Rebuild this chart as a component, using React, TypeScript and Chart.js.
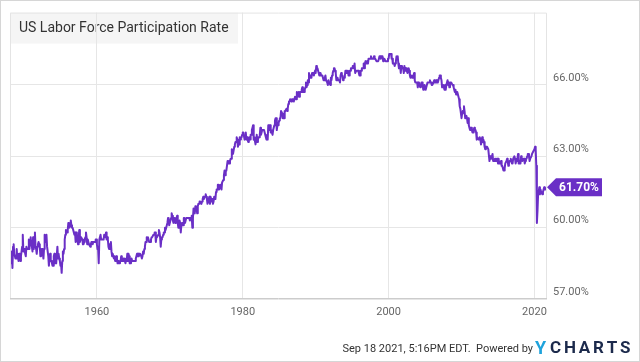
import { useEffect, useRef } from "react";
import { Chart, registerables } from "chart.js";

Chart.register(...registerables);

// Monthly US civilian labor force participation rate (%), Jan 1948 – Aug 2021
const START_YEAR = 1948;
const rate1948to1959 = [
  58.6, 58.9, 58.5, 59.0, 58.3, 59.2, 59.3, 58.9, 58.9, 58.7, 58.7, 59.1,
  58.7, 58.9, 58.6, 58.9, 58.7, 58.6, 58.8, 59.0, 59.2, 59.7, 59.0, 59.1,
  59.1, 58.9, 58.8, 59.2, 59.1, 59.1, 59.1, 59.5, 59.1, 59.5, 59.6, 59.3,
  59.2, 59.0, 59.6, 59.1, 59.4, 59.8, 59.2, 59.1, 58.9, 59.2, 59.3, 59.4,
  59.3, 59.2, 58.8, 58.9, 59.1, 59.1, 58.9, 58.7, 59.1, 59.7, 59.4, 59.5,
  59.7, 59.2, 59.2, 58.8, 58.4, 58.8, 58.9, 58.6, 58.6, 58.5, 58.4, 58.4,
  58.8, 58.9, 58.5, 58.8, 58.5, 58.5, 59.2, 58.7, 58.9, 58.7, 58.6, 58.4,
  58.5, 58.1, 58.6, 59.0, 58.9, 59.1, 59.5, 59.7, 59.9, 59.8, 59.8, 59.9,
  60.2, 60.1, 60.0, 60.2, 60.3, 60.1, 60.0, 60.0, 59.9, 59.9, 59.7, 59.8,
  59.4, 59.8, 59.7, 59.5, 59.3, 59.6, 59.9, 59.4, 59.5, 59.6, 59.6, 59.5,
  59.3, 59.3, 59.4, 59.5, 59.6, 59.8, 59.6, 59.3, 59.5, 59.4, 59.3, 59.3,
  59.2, 59.3, 59.4, 59.4, 59.3, 59.4, 59.4, 59.4, 59.4, 59.5, 59.5, 59.3,
];
const rate1960s = [
  59.1, 59.1, 58.5, 59.5, 59.5, 59.7, 59.5, 59.5, 59.5, 59.5, 59.5, 59.7,
  59.7, 59.6, 59.8, 59.5, 59.6, 59.5, 59.2, 59.1, 59.3, 59.2, 59.4, 59.0,
  58.8, 58.9, 58.8, 58.7, 58.8, 58.6, 58.7, 58.8, 58.7, 58.5, 58.6, 58.5,
  58.5, 58.6, 58.6, 58.8, 58.6, 58.7, 58.6, 58.7, 58.7, 58.7, 58.5, 58.7,
  58.6, 58.9, 58.6, 58.9, 58.8, 58.5, 58.6, 58.5, 58.7, 58.6, 58.6, 58.6,
  58.6, 58.6, 58.6, 58.7, 58.8, 58.9, 58.8, 58.9, 58.8, 58.9, 58.9, 58.9,
  58.8, 58.7, 58.8, 59.0, 58.9, 59.1, 59.2, 59.4, 59.4, 59.6, 59.5, 59.6,
  59.5, 59.4, 59.4, 59.4, 59.5, 59.6, 59.6, 59.6, 59.7, 59.7, 59.8, 59.8,
  59.4, 59.6, 59.6, 59.6, 59.7, 59.9, 59.8, 59.6, 59.2, 59.5, 59.6, 59.6,
  59.7, 59.8, 59.8, 60.0, 59.9, 60.0, 60.0, 60.2, 60.4, 60.3, 60.1, 60.1,
];
const rate1970s = [
  60.3, 60.4, 60.6, 60.5, 60.3, 60.2, 60.4, 60.3, 60.2, 60.4, 60.4, 60.5,
  60.2, 60.0, 60.1, 60.3, 60.2, 59.8, 60.1, 60.2, 60.2, 60.1, 60.4, 60.4,
  60.2, 60.2, 60.4, 60.4, 60.4, 60.4, 60.4, 60.4, 60.3, 60.4, 60.4, 60.5,
  60.0, 60.4, 60.8, 60.7, 60.6, 60.9, 60.8, 60.8, 60.6, 60.9, 61.0, 61.0,
  61.1, 61.1, 61.1, 61.0, 61.1, 61.2, 61.3, 61.2, 61.3, 61.3, 61.4, 61.3,
  61.2, 61.0, 61.1, 61.2, 61.3, 61.0, 61.3, 61.2, 61.1, 61.2, 61.0, 61.1,
  61.3, 61.2, 61.2, 61.5, 61.6, 61.6, 61.8, 61.8, 61.6, 61.6, 61.8, 61.8,
  61.6, 61.9, 61.9, 62.0, 62.2, 62.4, 62.2, 62.4, 62.4, 62.4, 62.8, 62.7,
  62.8, 62.7, 62.8, 62.9, 62.9, 63.3, 63.1, 63.1, 63.1, 63.4, 63.5, 63.6,
  63.6, 63.8, 63.7, 63.4, 63.5, 63.5, 63.8, 63.7, 63.8, 63.8, 63.9, 64.0,
];
const rate1980s = [
  64.0, 64.0, 63.7, 63.8, 64.0, 63.7, 63.8, 63.7, 63.6, 63.7, 63.8, 63.7,
  63.9, 63.9, 64.1, 64.2, 64.3, 63.7, 63.8, 63.8, 63.5, 63.8, 63.9, 63.6,
  63.7, 63.8, 63.8, 63.9, 64.2, 63.9, 64.0, 64.1, 64.1, 64.1, 64.1, 64.1,
  63.9, 63.8, 63.7, 63.8, 63.7, 64.3, 64.1, 64.3, 64.3, 64.0, 64.1, 64.1,
  63.9, 64.1, 64.1, 64.3, 64.5, 64.6, 64.6, 64.1, 64.3, 64.3, 64.4, 64.5,
  64.6, 64.6, 64.9, 64.9, 64.8, 64.6, 64.7, 64.6, 64.9, 64.9, 64.9, 65.0,
  64.9, 65.0, 65.2, 65.3, 65.3, 65.4, 65.4, 65.3, 65.4, 65.4, 65.4, 65.3,
  65.4, 65.5, 65.5, 65.4, 65.7, 65.5, 65.6, 65.7, 65.5, 65.7, 65.7, 65.7,
  65.8, 65.9, 65.7, 65.8, 65.7, 65.8, 65.9, 66.1, 65.9, 66.0, 66.2, 66.1,
  66.5, 66.3, 66.3, 66.4, 66.3, 66.5, 66.5, 66.5, 66.4, 66.5, 66.6, 66.5,
];
const rate1990s = [
  66.8, 66.7, 66.7, 66.6, 66.6, 66.4, 66.5, 66.5, 66.4, 66.4, 66.4, 66.4,
  66.2, 66.2, 66.3, 66.4, 66.2, 66.2, 66.1, 66.0, 66.2, 66.1, 66.1, 66.0,
  66.3, 66.2, 66.4, 66.5, 66.6, 66.7, 66.7, 66.6, 66.5, 66.2, 66.3, 66.3,
  66.2, 66.2, 66.2, 66.1, 66.4, 66.5, 66.4, 66.4, 66.2, 66.3, 66.3, 66.4,
  66.6, 66.6, 66.5, 66.5, 66.6, 66.4, 66.4, 66.6, 66.6, 66.7, 66.7, 66.7,
  66.8, 66.8, 66.7, 66.9, 66.5, 66.5, 66.6, 66.6, 66.6, 66.6, 66.5, 66.4,
  66.4, 66.6, 66.6, 66.7, 66.7, 66.7, 66.9, 66.7, 66.9, 67.0, 66.9, 67.0,
  67.0, 66.9, 67.1, 67.1, 67.1, 67.1, 67.2, 67.1, 67.1, 67.1, 67.1, 67.2,
  67.1, 67.1, 67.1, 67.0, 67.0, 67.0, 67.0, 67.0, 67.2, 67.2, 67.1, 67.2,
  67.2, 67.2, 67.0, 67.1, 67.1, 67.1, 67.0, 67.0, 67.0, 67.0, 67.1, 67.1,
];
const rate2000s = [
  67.3, 67.3, 67.3, 67.3, 67.1, 67.1, 66.9, 66.9, 66.9, 66.8, 66.9, 67.0,
  67.2, 67.1, 67.2, 66.9, 66.7, 66.7, 66.8, 66.5, 66.8, 66.7, 66.7, 66.7,
  66.5, 66.8, 66.6, 66.7, 66.7, 66.6, 66.5, 66.6, 66.7, 66.6, 66.4, 66.3,
  66.4, 66.4, 66.3, 66.4, 66.4, 66.5, 66.2, 66.1, 66.1, 66.1, 66.1, 65.9,
  66.1, 66.0, 66.0, 65.9, 66.0, 66.1, 66.1, 66.0, 65.8, 65.9, 66.0, 65.9,
  65.8, 65.9, 65.9, 66.1, 66.1, 66.1, 66.1, 66.2, 66.1, 66.1, 66.0, 66.0,
  66.0, 66.1, 66.2, 66.1, 66.1, 66.2, 66.1, 66.2, 66.1, 66.2, 66.3, 66.4,
  66.4, 66.3, 66.2, 65.9, 66.0, 66.0, 66.0, 65.8, 66.0, 65.8, 66.0, 66.0,
  66.2, 66.0, 66.1, 65.9, 66.1, 66.1, 66.1, 66.1, 66.0, 66.0, 65.9, 65.8,
  65.7, 65.8, 65.6, 65.7, 65.7, 65.7, 65.5, 65.4, 65.1, 65.0, 65.0, 64.6,
];
const rate2010s = [
  64.8, 64.9, 64.9, 65.1, 64.9, 64.6, 64.6, 64.7, 64.6, 64.4, 64.6, 64.3,
  64.2, 64.1, 64.2, 64.2, 64.1, 64.0, 64.0, 64.1, 64.2, 64.1, 64.1, 64.0,
  63.7, 63.8, 63.8, 63.7, 63.7, 63.8, 63.7, 63.5, 63.6, 63.8, 63.6, 63.7,
  63.6, 63.4, 63.3, 63.4, 63.4, 63.4, 63.4, 63.3, 63.3, 62.8, 63.0, 62.9,
  62.9, 62.9, 63.1, 62.8, 62.8, 62.8, 62.9, 62.9, 62.8, 62.9, 62.9, 62.7,
  62.9, 62.7, 62.7, 62.7, 62.8, 62.6, 62.6, 62.6, 62.4, 62.4, 62.5, 62.7,
  62.7, 62.8, 62.9, 62.8, 62.6, 62.7, 62.8, 62.8, 62.9, 62.8, 62.7, 62.7,
  62.9, 62.9, 63.0, 62.9, 62.7, 62.8, 62.9, 62.9, 63.1, 62.7, 62.8, 62.7,
  62.7, 63.0, 62.9, 62.8, 62.8, 62.9, 62.9, 62.7, 62.8, 62.9, 62.9, 63.0,
  63.1, 63.1, 63.0, 62.8, 62.9, 62.9, 63.0, 63.1, 63.1, 63.2, 63.2, 63.3,
];
const rate2020to2021 = [
  63.4, 63.3, 62.6, 60.2, 60.7, 61.4, 61.5, 61.7, 61.4, 61.6, 61.5, 61.5,
  61.4, 61.5, 61.6, 61.7, 61.6, 61.6, 61.7, 61.7,
];

const yTicks = [57, 60, 63, 66];
const xTicks = [1960, 1980, 2000, 2020];
const X_MIN = 1948.083;
const X_MAX = 2021.72;
const Y_MIN = 57;
const Y_MAX = 69.04;

const titleText = "US Labor Force Participation Rate";
const footerText = "Sep 18 2021, 5:16PM EDT.  Powered by";
const LINE_COLOR = "#6a2fc6";
const FONT = "Roboto";

const monthly = [
  ...rate1948to1959,
  ...rate1960s,
  ...rate1970s,
  ...rate1980s,
  ...rate1990s,
  ...rate2000s,
  ...rate2010s,
  ...rate2020to2021,
];
const latestValue = monthly[monthly.length - 1];

const decorPlugin = {
  id: "decor",
  beforeDraw(chart: any) {
    const { ctx, chartArea: a, width, height } = chart;
    ctx.save();
    ctx.fillStyle = "#ffffff";
    ctx.fillRect(0, 0, width, height);
    ctx.fillStyle = "#f5f5f5";
    ctx.fillRect(a.left, a.top, 228, 31);
    ctx.fillStyle = "#333333";
    ctx.font = `14px ${FONT}`;
    ctx.textBaseline = "middle";
    ctx.textAlign = "left";
    ctx.fillText(titleText, a.left + 9, a.top + 16);
    ctx.restore();
  },
  afterDraw(chart: any) {
    const { ctx, chartArea: a, width, height } = chart;
    ctx.save();
    // plot frame
    ctx.strokeStyle = "#e4e4e4";
    ctx.lineWidth = 1;
    ctx.beginPath();
    ctx.moveTo(a.left + 0.5, a.bottom);
    ctx.lineTo(a.left + 0.5, a.top + 0.5);
    ctx.lineTo(a.right - 0.5, a.top + 0.5);
    ctx.lineTo(a.right - 0.5, a.bottom);
    ctx.stroke();
    ctx.strokeStyle = "#cccccc";
    ctx.beginPath();
    ctx.moveTo(a.left, Math.round(a.bottom) - 0.5);
    ctx.lineTo(a.right, Math.round(a.bottom) - 0.5);
    ctx.stroke();

    // latest value badge
    const yv = chart.scales.y.getPixelForValue(latestValue);
    const tip = a.right;
    ctx.fillStyle = LINE_COLOR;
    ctx.beginPath();
    ctx.moveTo(tip, yv);
    ctx.lineTo(tip + 9, yv - 9);
    ctx.lineTo(tip + 55, yv - 9);
    ctx.lineTo(tip + 55, yv + 9);
    ctx.lineTo(tip + 9, yv + 9);
    ctx.closePath();
    ctx.fill();
    ctx.fillStyle = "#ffffff";
    ctx.font = `bold 12px ${FONT}`;
    ctx.textAlign = "center";
    ctx.textBaseline = "middle";
    ctx.fillText(latestValue.toFixed(2) + "%", tip + 32, yv + 0.5);

    // footer
    ctx.fillStyle = "#333333";
    ctx.font = `11px ${FONT}`;
    ctx.textAlign = "right";
    ctx.fillText(footerText, 533, 349);
    ctx.textAlign = "left";
    ctx.font = `bold 18px ${FONT}`;
    ctx.fillStyle = "#1fa3dc";
    ctx.fillText("Y", 535, 349);
    ctx.fillStyle = "#1c2a4c";
    ctx.font = `bold 17px ${FONT}`;
    const letters = ["C", "H", "A", "R", "T", "S"];
    let lx = 550;
    for (const ch of letters) {
      ctx.fillText(ch, lx, 349);
      lx += ctx.measureText(ch).width + 2.8;
    }

    // outer border
    ctx.strokeStyle = "#d6d6d6";
    ctx.strokeRect(0.5, 0.5, width - 1, height - 1);
    ctx.restore();
  },
};

export default function App() {
  const ref = useRef<HTMLCanvasElement | null>(null);

  useEffect(() => {
    if (!ref.current) return;
    const points = monthly.map((v, i) => ({ x: START_YEAR + (i + 1) / 12, y: v }));
    const chart = new Chart(ref.current, {
      type: "line",
      data: {
        datasets: [
          {
            data: points,
            borderColor: LINE_COLOR,
            borderWidth: 2,
            pointRadius: 0,
            tension: 0,
            fill: false,
            borderJoinStyle: "round",
          },
        ],
      },
      options: {
        animation: false,
        responsive: false,
        devicePixelRatio: 1,
        layout: { padding: { left: 10, top: 10, right: 0, bottom: 0 } },
        plugins: {
          legend: { display: false },
          tooltip: { enabled: false },
        },
        scales: {
          x: {
            type: "linear",
            min: X_MIN,
            max: X_MAX,
            grid: { color: "#e6e6e6", drawTicks: false },
            border: { display: false },
            ticks: {
              padding: 7,
              color: "#666666",
              font: { family: FONT, size: 11 },
              maxRotation: 0,
              autoSkip: false,
              callback: (v: any) => String(v),
            },
            afterBuildTicks: (s: any) => {
              s.ticks = xTicks.map((v) => ({ value: v }));
            },
            afterFit: (s: any) => {
              s.height = 63;
            },
          },
          y: {
            position: "right",
            min: Y_MIN,
            max: Y_MAX,
            grid: { color: "#e6e6e6", drawTicks: false },
            border: { display: false },
            ticks: {
              padding: 6,
              labelOffset: -7,
              color: "#666666",
              font: { family: FONT, size: 11 },
              callback: (v: any) => Number(v).toFixed(2) + "%",
            },
            afterBuildTicks: (s: any) => {
              s.ticks = yTicks.map((v) => ({ value: v }));
            },
            afterFit: (s: any) => {
              s.width = 93;
            },
          },
        },
      },
      plugins: [decorPlugin],
    });
    return () => chart.destroy();
  }, []);

  return (
    <div style={{ position: "absolute", left: 0, top: 0, width: 640, height: 362 }}>
      <canvas ref={ref} width={640} height={362} style={{ display: "block" }} />
    </div>
  );
}
